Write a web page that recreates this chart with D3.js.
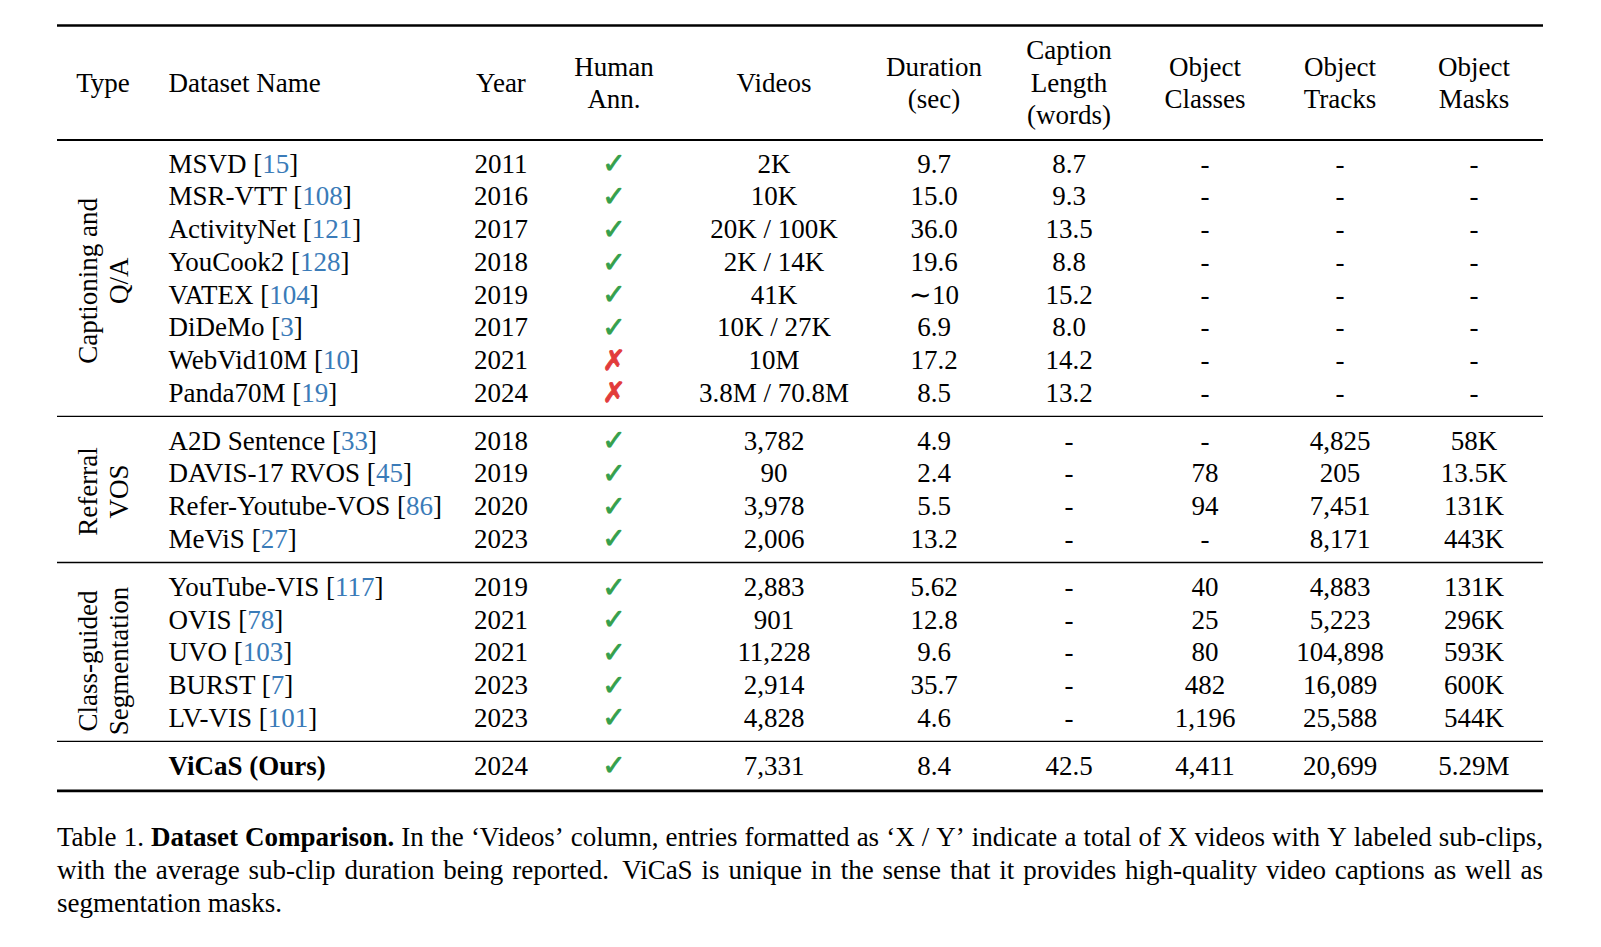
<!DOCTYPE html>
<html><head><meta charset="utf-8">
<script src="https://cdn.jsdelivr.net/npm/d3@7"></script>
<style>html,body{margin:0;padding:0;background:#fff;} svg{display:block;}</style>
</head><body><svg id="chart" width="1601" height="947"></svg>
<script>
// ---------------- data ----------------
const sectionLabels = [["Captioning and", "Q/A"], ["Referral", "VOS"], ["Class-guided", "Segmentation"], []];
const datasetNames = ["MSVD", "MSR-VTT", "ActivityNet", "YouCook2", "VATEX", "DiDeMo", "WebVid10M", "Panda70M",
  "A2D Sentence", "DAVIS-17 RVOS", "Refer-Youtube-VOS", "MeViS",
  "YouTube-VIS", "OVIS", "UVO", "BURST", "LV-VIS", "ViCaS (Ours)"];
const citations = ["15", "108", "121", "128", "104", "3", "10", "19", "33", "45", "86", "27", "117", "78", "103", "7", "101", null];
const sections = [0, 0, 0, 0, 0, 0, 0, 0, 1, 1, 1, 1, 2, 2, 2, 2, 2, 3];
const years = ["2011", "2016", "2017", "2018", "2019", "2017", "2021", "2024", "2018", "2019", "2020", "2023", "2019", "2021", "2021", "2023", "2023", "2024"];
const humanAnn = [true, true, true, true, true, true, false, false, true, true, true, true, true, true, true, true, true, true];
const videos = ["2K", "10K", "20K / 100K", "2K / 14K", "41K", "10K / 27K", "10M", "3.8M / 70.8M", "3,782", "90", "3,978", "2,006", "2,883", "901", "11,228", "2,914", "4,828", "7,331"];
const durations = ["9.7", "15.0", "36.0", "19.6", "\u223C10", "6.9", "17.2", "8.5", "4.9", "2.4", "5.5", "13.2", "5.62", "12.8", "9.6", "35.7", "4.6", "8.4"];
const captionLengths = ["8.7", "9.3", "13.5", "8.8", "15.2", "8.0", "14.2", "13.2", "-", "-", "-", "-", "-", "-", "-", "-", "-", "42.5"];
const objectClasses = ["-", "-", "-", "-", "-", "-", "-", "-", "-", "78", "94", "-", "40", "25", "80", "482", "1,196", "4,411"];
const objectTracks = ["-", "-", "-", "-", "-", "-", "-", "-", "4,825", "205", "7,451", "8,171", "4,883", "5,223", "104,898", "16,089", "25,588", "20,699"];
const objectMasks = ["-", "-", "-", "-", "-", "-", "-", "-", "58K", "13.5K", "131K", "443K", "131K", "296K", "593K", "600K", "544K", "5.29M"];
const headerLabels = [["Type"], ["Dataset Name"], ["Year"], ["Human", "Ann."], ["Videos"], ["Duration", "(sec)"],
  ["Caption", "Length", "(words)"], ["Object", "Classes"], ["Object", "Tracks"], ["Object", "Masks"]];
const captionLines = [
  [{t: "Table 1."}, {t: "Dataset Comparison.", b: true}, {t: "In the \u2018Videos\u2019 column, entries formatted as \u2018X / Y\u2019 indicate a total of X videos with Y labeled sub-clips,"}],
  [{t: "with the average sub-clip duration being reported."}, {t: "\u00A0ViCaS is unique in the sense that it provides high-quality video captions as well as"}],
  [{t: "segmentation masks."}]
];
const captionJustify = [true, true, false];

// ---------------- layout ----------------
const FONT = "'Liberation Serif', 'Times New Roman', serif";
const FS = 27;
const BASE = 9.3; // baseline offset from visual center
const columnKeys = ["type", "name", "year", "human", "videos", "duration", "caption", "classes", "tracks", "masks"];
const xCol = d3.scaleOrdinal().domain(columnKeys).range([103, 168.5, 501, 614, 774, 934, 1069, 1205, 1340, 1474]);
const tableLeft = 57, tableRight = 1543;
const sectionGap = 0.47;
const yRow = d3.scaleLinear().domain([0, 1]).range([163.4, 196.1]);
const vIndex = i => i + sections[i] * sectionGap;
const rowY = i => yRow(vIndex(i));

const svg = d3.select("#chart");
svg.append("rect").attr("width", 1601).attr("height", 947).attr("fill", "#fff");
const g = svg.append("g").attr("font-family", FONT).attr("font-size", FS).attr("fill", "#000");

// rules
const headerCenter = 82.5, headerLineH = 32.5;
const rules = [
  {y: 25.5, w: 2.6},
  {y: 140, w: 1.8}
];
for (let s = 1; s < 4; s++) {
  const last = sections.lastIndexOf(s - 1), first = sections.indexOf(s);
  rules.push({y: (rowY(last) + rowY(first)) / 2, w: 1.4});
}
rules.push({y: rowY(datasetNames.length - 1) + 25.5, w: 2.6});
g.selectAll("line.rule").data(rules).join("line").attr("class", "rule")
  .attr("x1", tableLeft).attr("x2", tableRight)
  .attr("y1", d => d.y).attr("y2", d => d.y)
  .attr("stroke", "#000").attr("stroke-width", d => d.w);

// headers
headerLabels.forEach((lines, ci) => {
  const key = columnKeys[ci];
  const t = g.append("text")
    .attr("text-anchor", key === "name" ? "start" : "middle");
  lines.forEach((ln, li) => {
    const cy = headerCenter + (li - (lines.length - 1) / 2) * headerLineH;
    t.append("tspan").attr("x", xCol(key)).attr("y", cy + BASE).text(ln);
  });
});

// section labels (rotated)
const sectionOffsets = [3, 2, 9, 0];
sectionLabels.forEach((lines, s) => {
  if (!lines.length) return;
  const first = sections.indexOf(s), last = sections.lastIndexOf(s);
  const cy = (rowY(first) + rowY(last)) / 2 + sectionOffsets[s];
  const xs = [88, 119];
  lines.forEach((ln, li) => {
    g.append("text")
      .attr("transform", `translate(${xs[li]},${cy}) rotate(-90)`)
      .attr("text-anchor", "middle")
      .attr("x", 0).attr("y", BASE)
      .text(ln);
  });
});

// rows
const rowsIdx = d3.range(datasetNames.length);
const nameText = g.selectAll("text.name").data(rowsIdx).join("text").attr("class", "name")
  .attr("x", xCol("name")).attr("y", i => rowY(i) + BASE)
  .attr("font-weight", i => citations[i] === null ? "bold" : "normal");
nameText.each(function (i) {
  const t = d3.select(this);
  if (citations[i] === null) { t.text(datasetNames[i]); return; }
  t.append("tspan").text(datasetNames[i] + " [");
  t.append("tspan").attr("fill", "#3a7bb8").text(citations[i]);
  t.append("tspan").text("]");
});

const centered = [
  ["year", years], ["videos", videos], ["duration", durations], ["caption", captionLengths],
  ["classes", objectClasses], ["tracks", objectTracks], ["masks", objectMasks]
];
centered.forEach(([key, arr]) => {
  g.selectAll("text.c-" + key).data(rowsIdx).join("text").attr("class", "c-" + key)
    .attr("text-anchor", "middle")
    .attr("x", xCol(key)).attr("y", i => rowY(i) + BASE)
    .text(i => arr[i]);
});

// human annotation marks
g.selectAll("text.mark").data(rowsIdx).join("text").attr("class", "mark")
  .attr("text-anchor", "middle")
  .attr("font-family", "'DejaVu Sans', sans-serif")
  .attr("font-size", 28)
  .attr("x", xCol("human")).attr("y", i => rowY(i) + 10)
  .attr("fill", i => humanAnn[i] ? "#35a04c" : "#e23b3b")
  .attr("stroke", i => humanAnn[i] ? "#35a04c" : "#e23b3b")
  .attr("stroke-width", 0.9)
  .text(i => humanAnn[i] ? "\u2713" : "\u2717");

// caption (justified)
const capLeft = 57, capRight = 1543;
const capY = [837, 870, 903];
captionLines.forEach((segs, li) => {
  const words = [];
  segs.forEach(s => s.t.split(" ").forEach(w => { if (w.length) words.push({w, b: !!s.b}); }));
  const t = g.append("text").attr("y", capY[li] + BASE);
  const spans = words.map(wd => t.append("tspan").attr("font-weight", wd.b ? "bold" : "normal").text(wd.w.replace("\u00A0", "")));
  const weights = words.map(wd => wd.w.startsWith("\u00A0") ? 1.5 : 1);
  const widths = spans.map(s => s.node().getComputedTextLength());
  const sumW = d3.sum(widths);
  const spaceW = FS * 0.25;
  let gapUnit = spaceW, scale = 1;
  const totalWeight = d3.sum(weights.slice(1));
  if (captionJustify[li]) {
    gapUnit = (capRight - capLeft - sumW) / totalWeight;
    if (gapUnit < 4) { gapUnit = 4; scale = (capRight - capLeft) / (sumW + 4 * totalWeight); }
  }
  let x = capLeft;
  spans.forEach((s, k) => {
    if (k > 0) x += gapUnit * weights[k];
    s.attr("x", x);
    x += widths[k];
  });
  if (scale !== 1) t.attr("transform", `translate(${capLeft},0) scale(${scale},1) translate(${-capLeft},0)`);
});
</script>
</body></html>
